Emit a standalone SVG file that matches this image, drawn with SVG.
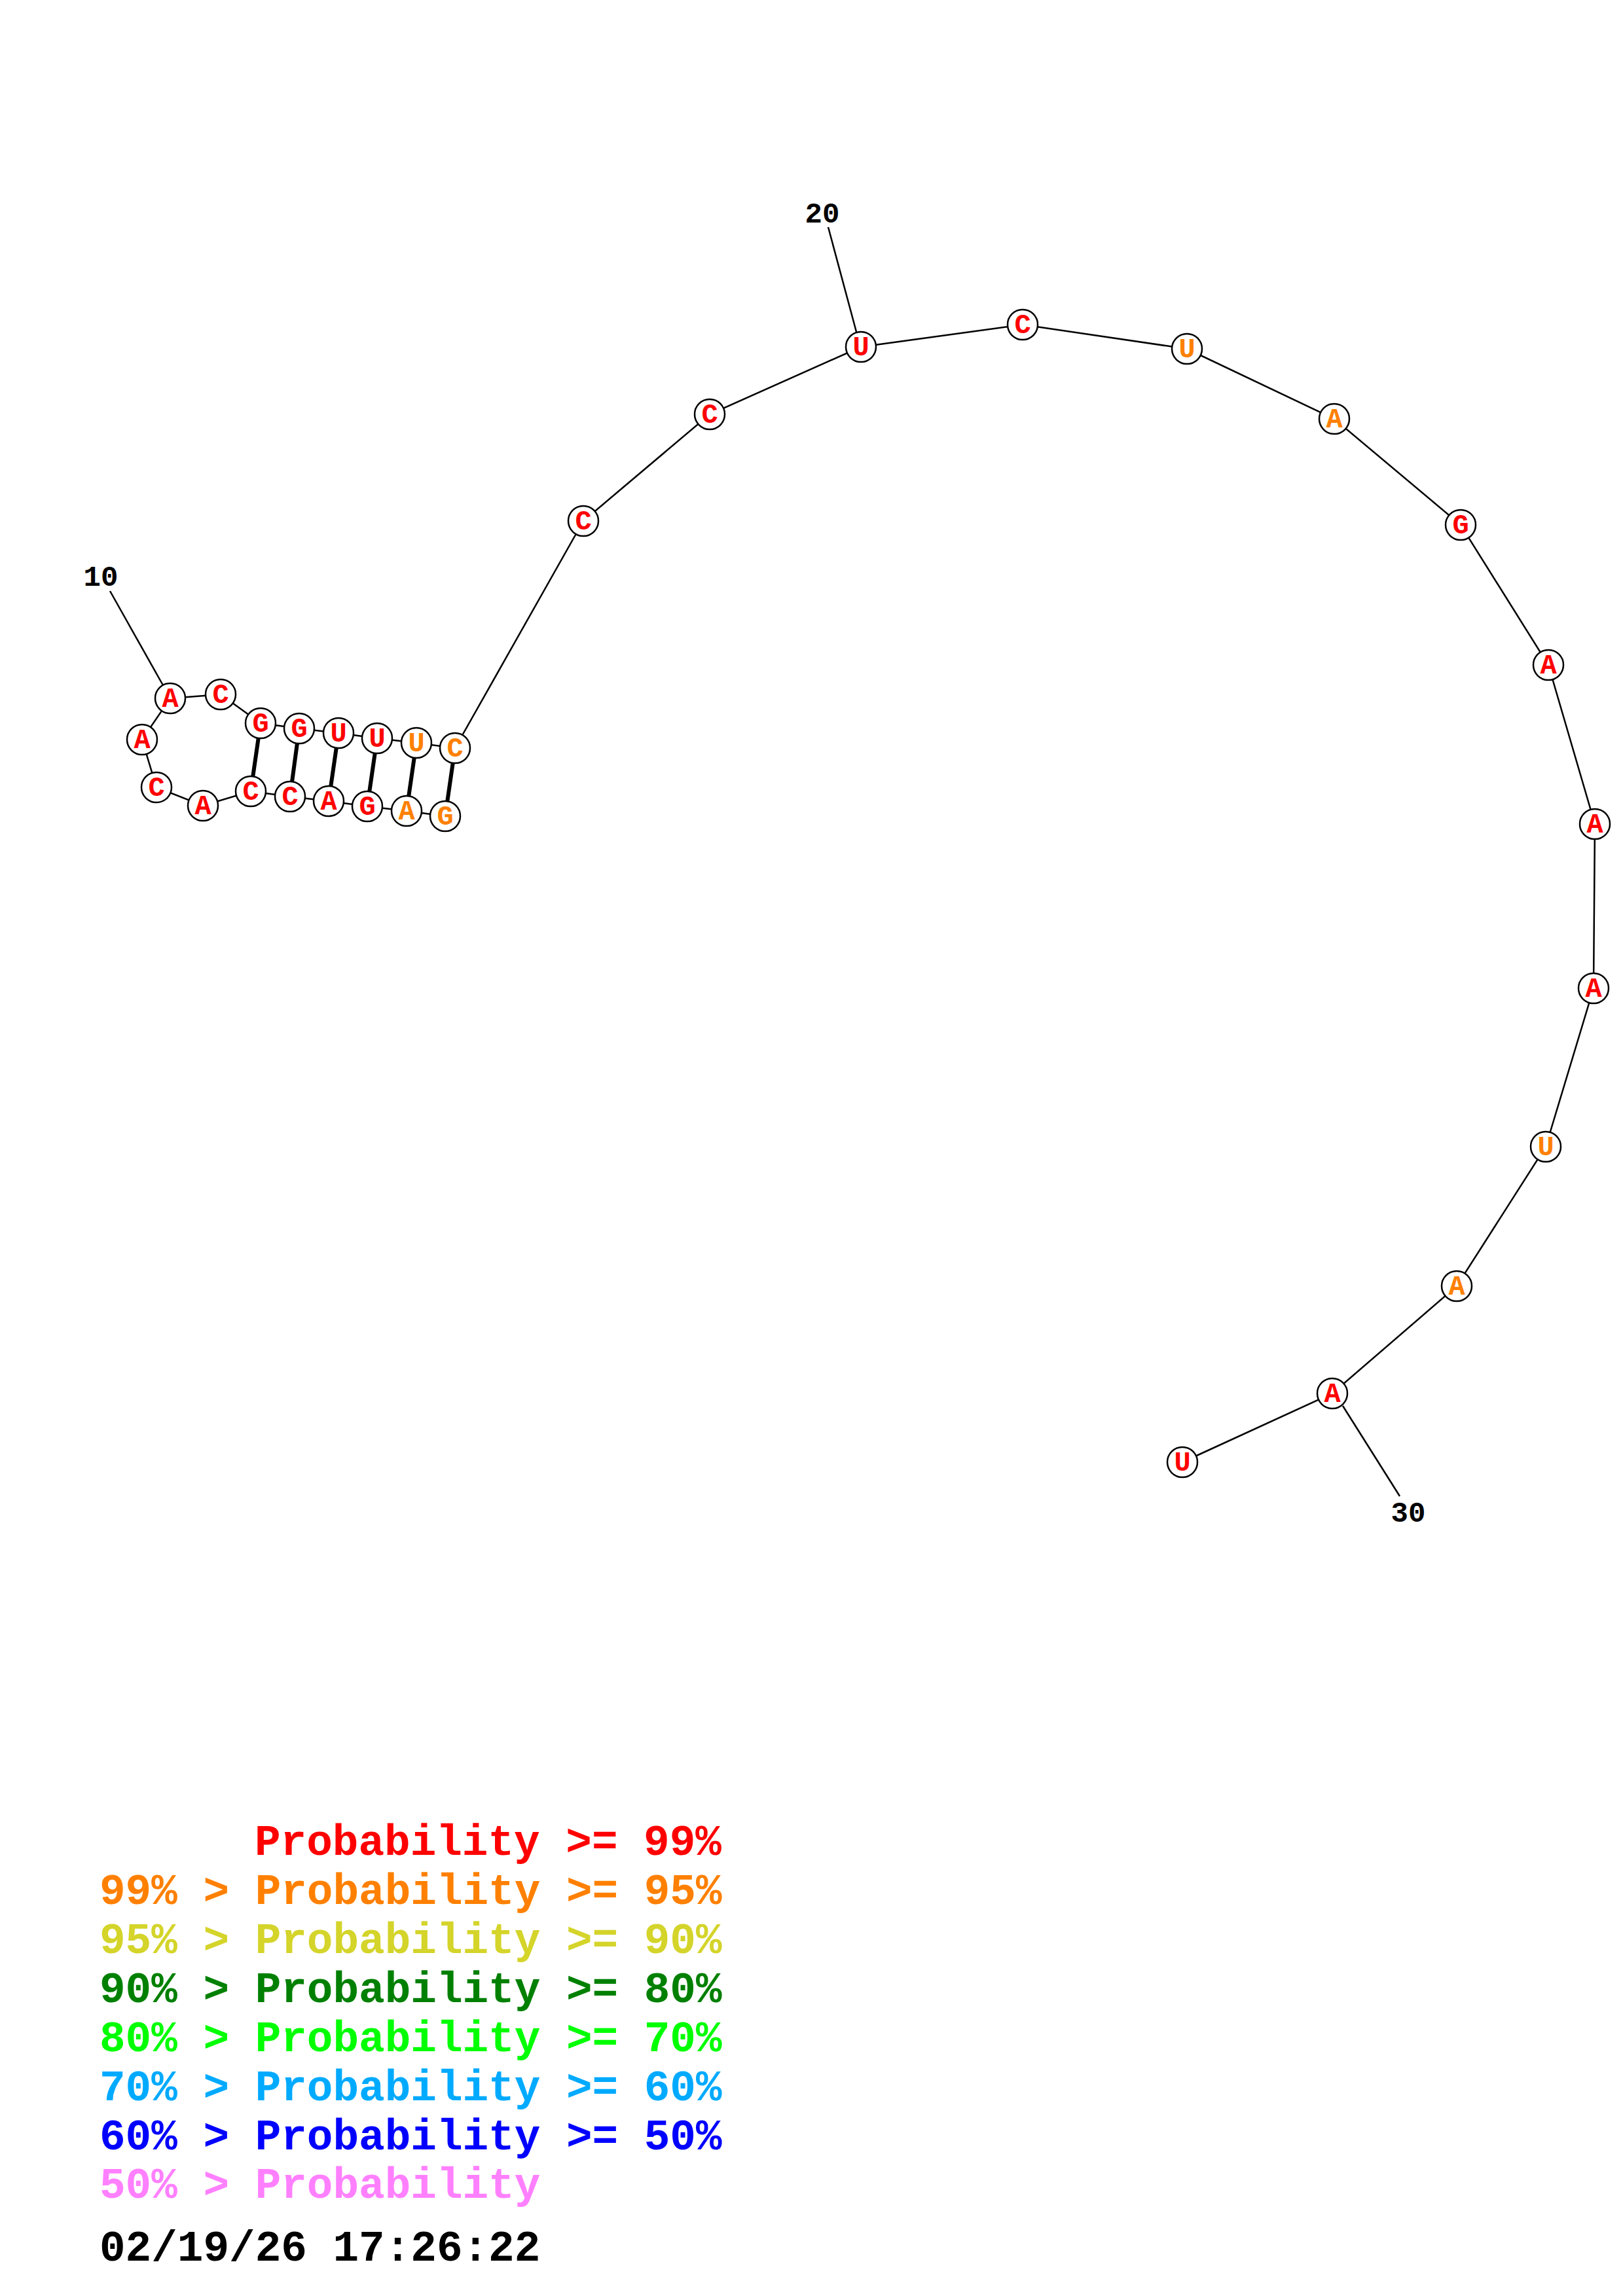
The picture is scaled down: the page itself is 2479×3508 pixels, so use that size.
<svg xmlns="http://www.w3.org/2000/svg" width="2479" height="3508" viewBox="0 0 2479 3508">
<style>
.bb{stroke:#000;stroke-width:2.5;fill:none}
.bp{stroke:#000;stroke-width:6;fill:none}
.nc{fill:#fff;stroke:#000;stroke-width:2.5}
.nt{font-family:"Liberation Mono","Courier New","DejaVu Sans Mono",monospace;font-weight:bold;font-size:42px;text-anchor:middle}
.r{fill:#FF0000}
.o{fill:#FF8000}
.lbl{font-family:"Liberation Mono","DejaVu Sans Mono",monospace;font-weight:bold;font-size:44px;text-anchor:middle;fill:#000}
.lg{font-family:"Liberation Mono","Courier New",monospace;font-weight:bold;font-size:66px;white-space:pre}
</style>
<rect width="2479" height="3508" fill="#fff"/>
<g id="connectors">
<polyline class="bb" points="680,1247 621,1239 561,1232 502,1224 443,1217 383,1209 310,1231 239,1203 217,1130 260,1067 337,1061 398,1105 457,1113 517,1120 576,1128 636,1135 695,1143 891,796 1084,633 1315,530 1562,496 1813,533 2038,640 2231,802 2365,1016 2436,1259 2434,1510 2361,1752 2225,1965 2035,2129 1806,2234"/>
<line class="bp" x1="680" y1="1247" x2="695" y2="1143"/>
<line class="bp" x1="621" y1="1239" x2="636" y2="1135"/>
<line class="bp" x1="561" y1="1232" x2="576" y2="1128"/>
<line class="bp" x1="502" y1="1224" x2="517" y2="1120"/>
<line class="bp" x1="443" y1="1217" x2="457" y2="1113"/>
<line class="bp" x1="383" y1="1209" x2="398" y2="1105"/>
<line class="bb" x1="168" y1="903" x2="249" y2="1047"/>
<line class="bb" x1="1265" y1="347" x2="1308" y2="507"/>
<line class="bb" x1="2051" y1="2148" x2="2138" y2="2286"/>
</g>
<g id="n1"><circle class="nc" cx="680" cy="1247" r="23"/><text class="nt o" x="680" y="1260">G</text></g>
<g id="n2"><circle class="nc" cx="621" cy="1239" r="23"/><text class="nt o" x="621" y="1252">A</text></g>
<g id="n3"><circle class="nc" cx="561" cy="1232" r="23"/><text class="nt r" x="561" y="1245">G</text></g>
<g id="n4"><circle class="nc" cx="502" cy="1224" r="23"/><text class="nt r" x="502" y="1237">A</text></g>
<g id="n5"><circle class="nc" cx="443" cy="1217" r="23"/><text class="nt r" x="443" y="1230">C</text></g>
<g id="n6"><circle class="nc" cx="383" cy="1209" r="23"/><text class="nt r" x="383" y="1222">C</text></g>
<g id="n7"><circle class="nc" cx="310" cy="1231" r="23"/><text class="nt r" x="310" y="1244">A</text></g>
<g id="n8"><circle class="nc" cx="239" cy="1203" r="23"/><text class="nt r" x="239" y="1216">C</text></g>
<g id="n9"><circle class="nc" cx="217" cy="1130" r="23"/><text class="nt r" x="217" y="1143">A</text></g>
<g id="n10"><circle class="nc" cx="260" cy="1067" r="23"/><text class="nt r" x="260" y="1080">A</text></g>
<g id="n11"><circle class="nc" cx="337" cy="1061" r="23"/><text class="nt r" x="337" y="1074">C</text></g>
<g id="n12"><circle class="nc" cx="398" cy="1105" r="23"/><text class="nt r" x="398" y="1118">G</text></g>
<g id="n13"><circle class="nc" cx="457" cy="1113" r="23"/><text class="nt r" x="457" y="1126">G</text></g>
<g id="n14"><circle class="nc" cx="517" cy="1120" r="23"/><text class="nt r" x="517" y="1133">U</text></g>
<g id="n15"><circle class="nc" cx="576" cy="1128" r="23"/><text class="nt r" x="576" y="1141">U</text></g>
<g id="n16"><circle class="nc" cx="636" cy="1135" r="23"/><text class="nt o" x="636" y="1148">U</text></g>
<g id="n17"><circle class="nc" cx="695" cy="1143" r="23"/><text class="nt o" x="695" y="1156">C</text></g>
<g id="n18"><circle class="nc" cx="891" cy="796" r="23"/><text class="nt r" x="891" y="809">C</text></g>
<g id="n19"><circle class="nc" cx="1084" cy="633" r="23"/><text class="nt r" x="1084" y="646">C</text></g>
<g id="n20"><circle class="nc" cx="1315" cy="530" r="23"/><text class="nt r" x="1315" y="543">U</text></g>
<g id="n21"><circle class="nc" cx="1562" cy="496" r="23"/><text class="nt r" x="1562" y="509">C</text></g>
<g id="n22"><circle class="nc" cx="1813" cy="533" r="23"/><text class="nt o" x="1813" y="546">U</text></g>
<g id="n23"><circle class="nc" cx="2038" cy="640" r="23"/><text class="nt o" x="2038" y="653">A</text></g>
<g id="n24"><circle class="nc" cx="2231" cy="802" r="23"/><text class="nt r" x="2231" y="815">G</text></g>
<g id="n25"><circle class="nc" cx="2365" cy="1016" r="23"/><text class="nt r" x="2365" y="1029">A</text></g>
<g id="n26"><circle class="nc" cx="2436" cy="1259" r="23"/><text class="nt r" x="2436" y="1272">A</text></g>
<g id="n27"><circle class="nc" cx="2434" cy="1510" r="23"/><text class="nt r" x="2434" y="1523">A</text></g>
<g id="n28"><circle class="nc" cx="2361" cy="1752" r="23"/><text class="nt o" x="2361" y="1765">U</text></g>
<g id="n29"><circle class="nc" cx="2225" cy="1965" r="23"/><text class="nt o" x="2225" y="1978">A</text></g>
<g id="n30"><circle class="nc" cx="2035" cy="2129" r="23"/><text class="nt r" x="2035" y="2142">A</text></g>
<g id="n31"><circle class="nc" cx="1806" cy="2234" r="23"/><text class="nt r" x="1806" y="2247">U</text></g>
<g id="labels">
<text class="lbl" x="154" y="895">10</text>
<text class="lbl" x="1256" y="340">20</text>
<text class="lbl" x="2151" y="2325">30</text>
</g>
<g id="legend">
<text class="lg" x="389" y="2834" fill="#FF0000">Probability &gt;= 99%</text>
<text class="lg" x="152" y="2909" fill="#FF8000">99% &gt; Probability &gt;= 95%</text>
<text class="lg" x="152" y="2984" fill="#D4D42A">95% &gt; Probability &gt;= 90%</text>
<text class="lg" x="152" y="3059" fill="#008000">90% &gt; Probability &gt;= 80%</text>
<text class="lg" x="152" y="3134" fill="#00FF00">80% &gt; Probability &gt;= 70%</text>
<text class="lg" x="152" y="3209" fill="#00AAFF">70% &gt; Probability &gt;= 60%</text>
<text class="lg" x="152" y="3284" fill="#0000FF">60% &gt; Probability &gt;= 50%</text>
<text class="lg" x="152" y="3358" fill="#FF80FF">50% &gt; Probability</text>
<text class="lg" x="152" y="3454" fill="#000000">02/19/26 17:26:22</text>
</g>
</svg>
